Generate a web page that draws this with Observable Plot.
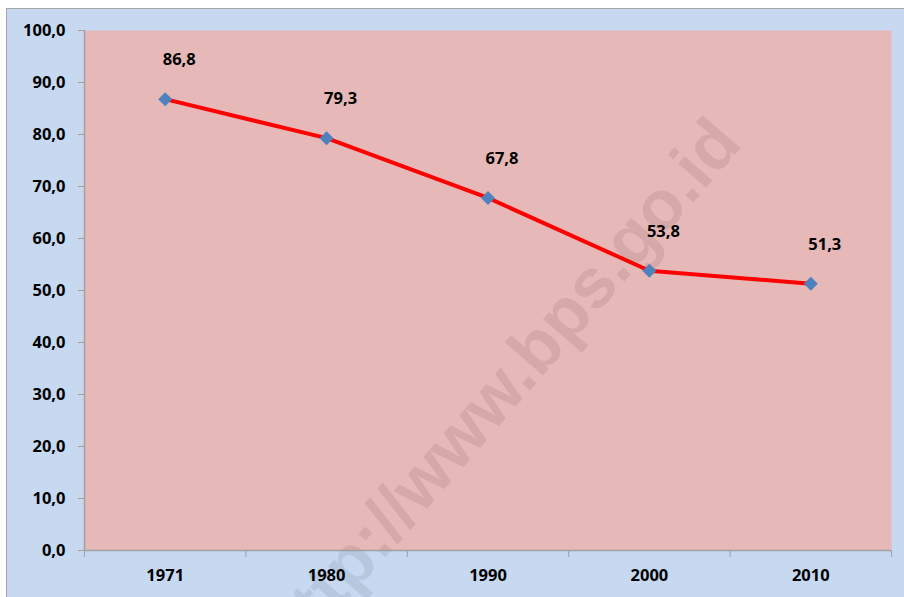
<!DOCTYPE html>
<html><head><meta charset="utf-8">
<script src="https://cdn.jsdelivr.net/npm/d3@7"></script>
<script src="https://cdn.jsdelivr.net/npm/@observablehq/plot@0.6"></script>
<style>
html,body{margin:0;padding:0;background:#fff;}
#chart{position:absolute;left:6px;top:8px;width:898px;height:589px;background:#c6d9f1;border-top:1px solid #a6a6a6;border-left:1px solid #a6a6a6;box-sizing:border-box;overflow:hidden;}
#chart svg{display:block;}
</style></head><body><div id="chart"></div>
<script>
const years = ["1971", "1980", "1990", "2000", "2010"];
const values = [86.8, 79.3, 67.8, 53.8, 51.3];
const yTicks = [0, 10, 20, 30, 40, 50, 60, 70, 80, 90, 100];
const watermark = ["http://www.bps.go.id"];

const data = years.map((year, i) => ({i, year, value: values[i]}));
const fmt = v => v.toFixed(1).replace(".", ",");
const boundaries = years.map((_, i) => i - 0.5).concat([years.length - 0.5]);
const gray = "#a0a0a0";

const plot = Plot.plot({
  width: 897, height: 588,
  marginLeft: 77, marginRight: 13, marginTop: 21, marginBottom: 47,
  style: {background: "transparent", fontFamily: "'Open Sans', Lato, sans-serif", fontSize: "16.5px", fontWeight: "bold", color: "#000", overflow: "visible"},
  x: {type: "linear", domain: [-0.5, years.length - 0.5]},
  y: {domain: [0, 100]},
  marks: [
    Plot.frame({fill: "#e6b8b7", stroke: null}),
    Plot.text(watermark, {frameAnchor: "middle", rotate: -49, fontSize: 70, fontFamily: "'Liberation Sans', Arial, sans-serif", fontWeight: "bold", fill: "#000", fillOpacity: 0.08, dx: 14, dy: 98}),
    Plot.axisY({ticks: yTicks, tickFormat: fmt, tickSize: 6, tickPadding: 13, stroke: gray, fill: "#000", label: null}),
    Plot.axisX({ticks: d3.range(years.length), tickFormat: i => years[i], tickSize: 0, tickPadding: 19, fill: "#000", label: null}),
    Plot.axisX({ticks: boundaries, tickFormat: () => "", tickSize: 7, stroke: gray, label: null}),
    Plot.ruleX([-0.5], {stroke: gray, strokeWidth: 1.5}),
    Plot.ruleY([0], {stroke: gray, strokeWidth: 1.5}),
    Plot.line(data, {x: "i", y: "value", stroke: "#ff0000", strokeWidth: 4}),
    Plot.dot(data, {x: "i", y: "value", symbol: "diamond2", r: 6.3, fill: "#4f81bd", stroke: null}),
    Plot.text(data, {x: "i", y: "value", text: d => fmt(d.value), dx: 14, dy: -39, fontSize: 16.5, fontWeight: "bold", fill: "#000"})
  ]
});
document.getElementById("chart").appendChild(plot);
</script>
</body></html>
